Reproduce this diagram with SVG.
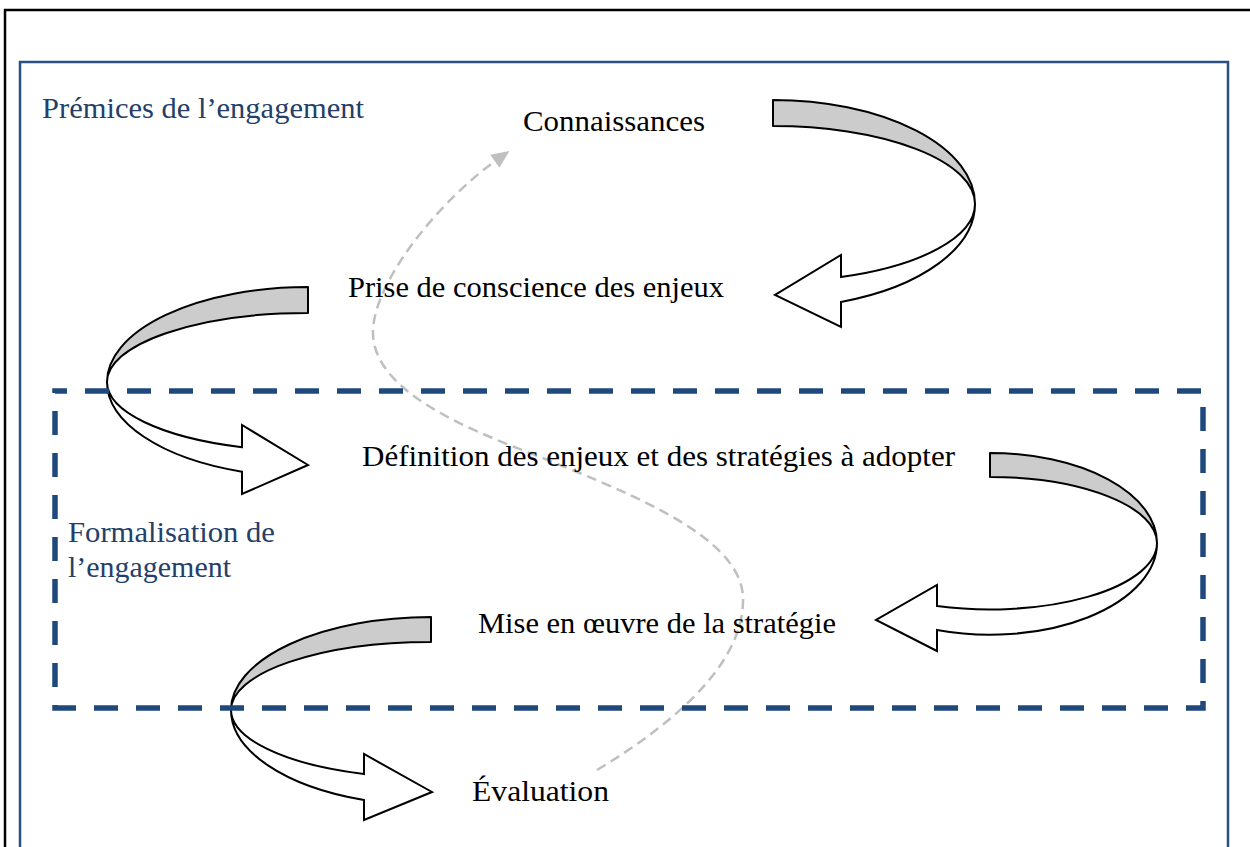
<svg xmlns="http://www.w3.org/2000/svg" width="1250" height="847" viewBox="0 0 1250 847">
<defs>
<style>
.t{font-family:"Liberation Serif","Times New Roman",serif;font-size:30px;fill:#000}
.lbl{font-family:"Liberation Serif","Times New Roman",serif;font-size:30px;fill:#243f69}
.back{fill:#cccccc;stroke:#000;stroke-width:2;stroke-linejoin:round}
.front{fill:#fff;stroke:#000;stroke-width:2;stroke-linejoin:miter}
.flow{fill:none;stroke:#bfbfbf;stroke-width:2.5;stroke-dasharray:10 6}
</style>
<marker id="ah" viewBox="0 0 18 16" refX="4" refY="8" markerWidth="18" markerHeight="16" markerUnits="userSpaceOnUse" orient="auto">
<path d="M0,0 L18,8 L0,16 Z" fill="#bfbfbf"/>
</marker>
</defs>
<rect width="1250" height="847" fill="#fff"/>
<g id="frames">
<path d="M5,850 V10 H1252" fill="none" stroke="#000" stroke-width="2.5"/>
<path d="M20,850 V62 H1228 V850" fill="none" stroke="#2a5082" stroke-width="2.5"/>
</g>
<g id="connectors">
<g id="arrow-connaissances-prise">
<path class="back" d="M773,100 A202,104 0 0 1 975,204 A202,78 0 0 0 773,126 Z"/>
<path class="front" d="M975,204 A202,104 0 0 1 841,301.9 L841,327 L775,295 L841,255 L841,277 A202,77.5 0 0 0 975,204 Z"/>
</g>
<g id="arrow-prise-definition">
<path class="back" d="M308,287 A201,95 0 0 0 107,382 A201,69 0 0 1 308,313 Z"/>
<path class="front" d="M107,382 A201,95 0 0 0 242,471.7 L242,494 L308,465 L242,425 L242,447.2 A201,69 0 0 1 107,382 Z"/>
</g>
<g id="arrow-definition-mise">
<path class="back" d="M990,453 A167,90 0 0 1 1157,543 A167,66 0 0 0 990,477 Z"/>
<path class="front" d="M1157,543 A167,91.7 0 0 1 937,630 L937,651 L876,620 L937,585 L937,606 A167,66.4 0 0 0 1157,543 Z"/>
</g>
<g id="arrow-mise-evaluation">
<path class="back" d="M431,617 A200,93 0 0 0 231,710 A200,68 0 0 1 431,642 Z"/>
<path class="front" d="M231,710 A200,95.5 0 0 0 364,800 L364,820 L432,792 L364,754 L364,774 A200,68 0 0 1 231,710 Z"/>
</g>
<path id="feedback" class="flow" marker-end="url(#ah)" d="M597,770 C680,720 745,660 743,597 C741,545 660,505 560,465 C500,440 370,400 373,330 C375,280 440,200 498,159"/>
</g>
<g id="formalisation-zone">
<rect x="55" y="391" width="1148" height="317" fill="none" stroke="#1f497d" stroke-width="5.5" stroke-dasharray="24 18" stroke-dashoffset="12"/>
</g>
<g id="label-premices"><text class="lbl" x="42" y="118" textLength="322" lengthAdjust="spacingAndGlyphs">Prémices de l’engagement</text></g>
<g id="label-formalisation"><text class="lbl" x="68" y="542" textLength="207" lengthAdjust="spacingAndGlyphs">Formalisation de</text><text class="lbl" x="68" y="577" textLength="163" lengthAdjust="spacingAndGlyphs">l’engagement</text></g>
<g id="node-connaissances"><text class="t" x="523" y="131" textLength="182" lengthAdjust="spacingAndGlyphs">Connaissances</text></g>
<g id="node-prise"><text class="t" x="348" y="297" textLength="376" lengthAdjust="spacingAndGlyphs">Prise de conscience des enjeux</text></g>
<g id="node-definition"><text class="t" x="362" y="466" textLength="593" lengthAdjust="spacingAndGlyphs">Définition des enjeux et des stratégies à adopter</text></g>
<g id="node-mise"><text class="t" x="478" y="633" textLength="358" lengthAdjust="spacingAndGlyphs">Mise en œuvre de la stratégie</text></g>
<g id="node-evaluation"><text class="t" x="472" y="801" textLength="137" lengthAdjust="spacingAndGlyphs">Évaluation</text></g>
</svg>
